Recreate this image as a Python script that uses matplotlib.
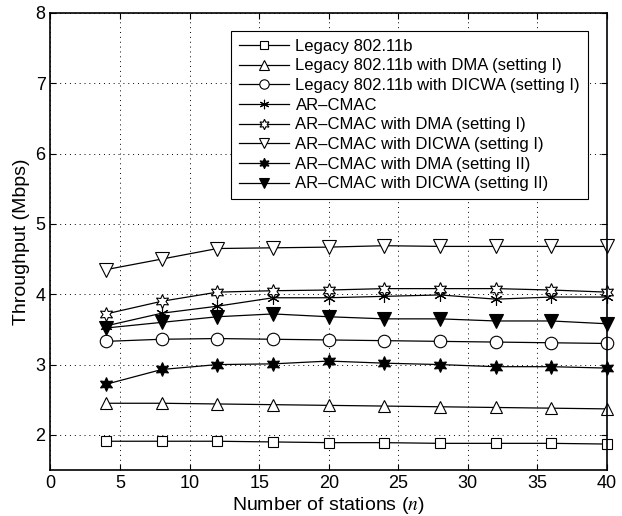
import matplotlib
matplotlib.use('Agg')
import matplotlib.pyplot as plt

plt.rcParams['font.family'] = ['Liberation Sans', 'DejaVu Sans']
plt.rcParams['mathtext.fontset'] = 'stix'

n = [4, 8, 12, 16, 20, 24, 28, 32, 36, 40]

legacy = [1.91, 1.91, 1.91, 1.90, 1.89, 1.89, 1.88, 1.88, 1.88, 1.87]
legacy_dma1 = [2.45, 2.45, 2.44, 2.43, 2.42, 2.41, 2.40, 2.39, 2.38, 2.37]
legacy_dicwa1 = [3.33, 3.36, 3.37, 3.36, 3.35, 3.34, 3.33, 3.32, 3.31, 3.30]
arcmac = [3.55, 3.73, 3.83, 3.95, 3.95, 3.97, 3.99, 3.93, 3.96, 3.96]
arcmac_dma1 = [3.72, 3.90, 4.03, 4.05, 4.06, 4.08, 4.08, 4.08, 4.06, 4.03]
arcmac_dicwa1 = [4.35, 4.50, 4.65, 4.66, 4.67, 4.69, 4.68, 4.68, 4.68, 4.68]
arcmac_dma2 = [2.72, 2.93, 3.00, 3.01, 3.05, 3.02, 3.00, 2.97, 2.97, 2.95]
arcmac_dicwa2 = [3.52, 3.60, 3.68, 3.72, 3.68, 3.65, 3.65, 3.62, 3.62, 3.58]

labels = ['Legacy 802.11b',
          'Legacy 802.11b with DMA (setting I)',
          'Legacy 802.11b with DICWA (setting I)',
          'AR\u2013CMAC',
          'AR\u2013CMAC with DMA (setting I)',
          'AR\u2013CMAC with DICWA (setting I)',
          'AR\u2013CMAC with DMA (setting II)',
          'AR\u2013CMAC with DICWA (setting II)']

series = [legacy, legacy_dma1, legacy_dicwa1, arcmac,
          arcmac_dma1, arcmac_dicwa1, arcmac_dma2, arcmac_dicwa2]
# marker, face colour, size
styles = [('s', 'white', 7), ('^', 'white', 9), ('o', 'white', 9),
          ((6, 2, 0), 'black', 9), ((6, 1, 0), 'white', 10),
          ('v', 'white', 10), ((6, 1, 0), 'black', 10), ('v', 'black', 10)]

fig = plt.figure(figsize=(6.22, 5.16), dpi=100)
ax = fig.add_axes([0.081, 0.089, 0.895, 0.886])

for y, lab, (m, fc, ms) in zip(series, labels, styles):
    ax.plot(n, y, color='black', lw=0.9, marker=m, markersize=ms,
            markerfacecolor=fc, markeredgecolor='black', markeredgewidth=0.8,
            label=lab, clip_on=False)

ax.set_xlim(0, 40)
ax.set_ylim(1.5, 8)
ax.set_xticks(range(0, 41, 5))
ax.set_yticks(range(2, 9))
ax.grid(True, linestyle=(0, (1, 4)), color='black', lw=0.7)
ax.tick_params(direction='in', labelsize=13, length=4, top=True, right=True)
for s in ax.spines.values():
    s.set_linewidth(1.2)

ax.set_xlabel('Number of stations ($n$)', fontsize=14, labelpad=2)
ax.set_ylabel('Throughput (Mbps)', fontsize=14)

leg = ax.legend(loc='upper right', fontsize=12, handlelength=3.0,
                markerscale=0.75, fancybox=False, framealpha=1,
                edgecolor='black', labelspacing=0.28, handletextpad=0.4,
                borderpad=0.45, bbox_to_anchor=(0.98, 0.978))
leg.get_frame().set_linewidth(0.8)

fig.savefig('out.png', dpi=100)
